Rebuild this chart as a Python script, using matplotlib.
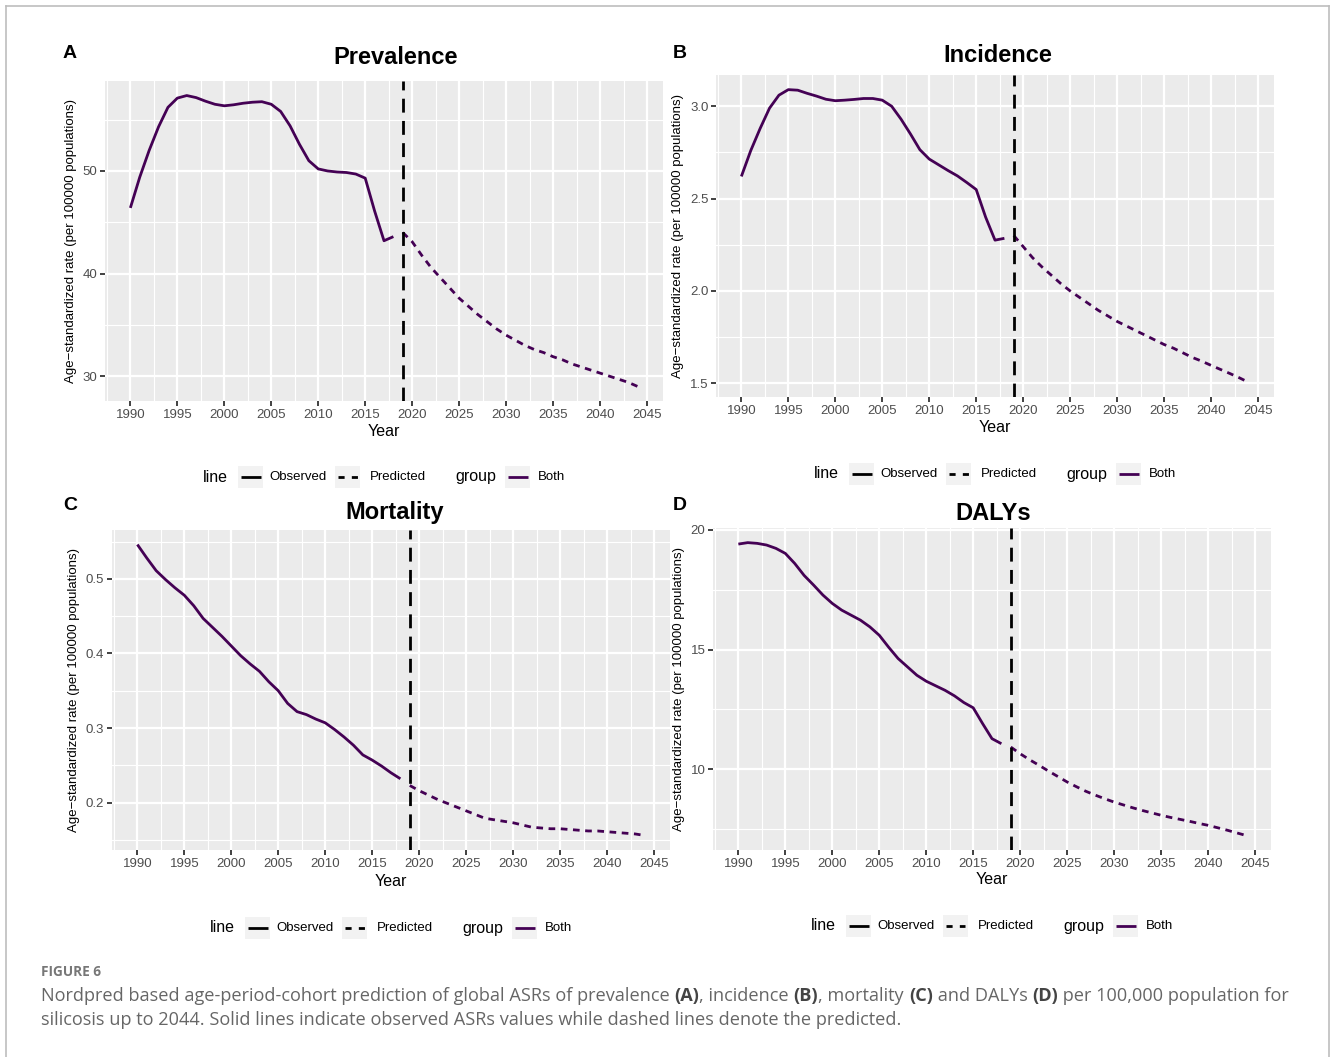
import matplotlib
matplotlib.use("Agg")
import matplotlib.pyplot as plt
from matplotlib.lines import Line2D
from matplotlib.patches import Rectangle

W, H = 1330, 1057

# ---- data ----
obs_years = list(range(1990, 2019))
pred_years = list(range(2019, 2045))

prev_obs = [46.4, 49.4, 52.0, 54.3, 56.2, 57.1, 57.35, 57.15, 56.8, 56.5,
            56.35, 56.45, 56.6, 56.7, 56.75, 56.5, 55.8, 54.4, 52.6, 51.0,
            50.2, 50.0, 49.9, 49.85, 49.7, 49.3, 46.1, 43.2, 43.6]
prev_pred = [44.0, 43.1, 41.8, 40.6, 39.6, 38.6, 37.6, 36.8, 36.0, 35.3,
             34.6, 34.0, 33.5, 33.0, 32.6, 32.3, 31.9, 31.6, 31.2, 30.9,
             30.6, 30.3, 30.0, 29.7, 29.4, 29.0]

inc_obs = [2.62, 2.76, 2.88, 2.99, 3.06, 3.09, 3.087, 3.07, 3.055, 3.038,
           3.03, 3.033, 3.037, 3.042, 3.042, 3.033, 3.0, 2.93, 2.85, 2.765,
           2.714, 2.683, 2.652, 2.623, 2.587, 2.549, 2.40, 2.275, 2.285]
inc_pred = [2.30, 2.24, 2.18, 2.13, 2.085, 2.04, 2.0, 1.965, 1.93, 1.895,
            1.865, 1.835, 1.81, 1.785, 1.76, 1.735, 1.71, 1.69, 1.665, 1.64,
            1.62, 1.597, 1.575, 1.553, 1.53, 1.505]

mort_obs = [0.546, 0.528, 0.511, 0.499, 0.488, 0.478, 0.464, 0.447, 0.435, 0.423,
            0.410, 0.397, 0.386, 0.376, 0.362, 0.350, 0.333, 0.322, 0.318, 0.312,
            0.307, 0.298, 0.288, 0.277, 0.264, 0.257, 0.249, 0.240, 0.232]
mort_pred = [0.223, 0.216, 0.210, 0.204, 0.199, 0.194, 0.189, 0.184, 0.179, 0.177,
             0.175, 0.173, 0.170, 0.167, 0.166, 0.165, 0.165, 0.164, 0.163, 0.162,
             0.162, 0.161, 0.160, 0.159, 0.158, 0.156]

daly_obs = [19.41, 19.47, 19.44, 19.37, 19.23, 19.02, 18.6, 18.1, 17.7, 17.28,
            16.93, 16.65, 16.44, 16.23, 15.95, 15.6, 15.1, 14.63, 14.28, 13.93,
            13.68, 13.49, 13.3, 13.07, 12.79, 12.57, 11.91, 11.28, 11.07]
daly_pred = [10.93, 10.65, 10.4, 10.17, 9.93, 9.7, 9.47, 9.27, 9.08, 8.92,
             8.77, 8.63, 8.51, 8.39, 8.28, 8.18, 8.08, 7.99, 7.91, 7.83,
             7.74, 7.66, 7.56, 7.46, 7.35, 7.24]

x_ticks = list(range(1990, 2050, 5))
x_minor = [1987.5 + 5 * i for i in range(12)]
cut_year = 2019

titles = ["Prevalence", "Incidence", "Mortality", "DALYs"]
letters = ["A", "B", "C", "D"]
y_ticks = [[30, 40, 50], [1.5, 2.0, 2.5, 3.0], [0.2, 0.3, 0.4, 0.5], [10, 15, 20]]
y_ticklabels = [["30", "40", "50"], ["1.5", "2.0", "2.5", "3.0"],
                ["0.2", "0.3", "0.4", "0.5"], ["10", "15", "20"]]
y_minor = [[35, 45, 55], [1.75, 2.25, 2.75], [0.15, 0.25, 0.35, 0.45, 0.55], [7.5, 12.5, 17.5]]
series = [(prev_obs, prev_pred), (inc_obs, inc_pred), (mort_obs, mort_pred), (daly_obs, daly_pred)]

PURPLE = "#440154"
ylab = "Age\u2212standardized rate (per 100000 populations)"

# layout in pixels: panel box (l, t, r, b), title xy, letter xy, ylabel x, xlabel y, legend x/y
panels = [
    dict(box=(105, 81, 663, 401), title=(396, 58), letter=(70, 54), ylx=71, xly=431, leg=(203, 477)),
    dict(box=(716, 75, 1274, 397), title=(998, 56), letter=(680, 54), ylx=678, xly=427, leg=(814, 474)),
    dict(box=(112, 530, 670, 850), title=(395, 512), letter=(70, 505), ylx=74, xly=881, leg=(210, 928)),
    dict(box=(713, 528, 1271, 850), title=(993, 514), letter=(680, 506), ylx=679, xly=880, leg=(811, 926)),
]


def fx(x):
    return x / W


def fy(y):
    return 1 - y / H


plt.rcParams['font.family'] = ['Liberation Sans', 'DejaVu Sans']
fig = plt.figure(figsize=(W / 100, H / 100), dpi=100)
fig.patch.set_facecolor("white")

# thin frame around the figure
for xs, ys in [([6, 6], [6, 1057]), ([1329, 1329], [6, 1057]), ([6, 1329], [6, 6])]:
    fig.lines.append(Line2D([fx(v) for v in xs], [fy(v) for v in ys], transform=fig.transFigure,
                            color="#BDBDBD", lw=1.2))


def draw_legend(x0, yc):
    fig.text(fx(x0), fy(yc), "line", fontsize=11.5, va="center", ha="left")
    fig.text(fx(x0 + 252), fy(yc), "group", fontsize=11.5, va="center", ha="left")
    fig.text(fx(x0 + 66), fy(yc), "Observed", fontsize=9.5, va="center", ha="left")
    fig.text(fx(x0 + 167), fy(yc), "Predicted", fontsize=9.5, va="center", ha="left")
    fig.text(fx(x0 + 335), fy(yc), "Both", fontsize=9.5, va="center", ha="left")
    for kx, dashed, col in [(x0 + 35, False, "black"), (x0 + 132, True, "black"), (x0 + 302, False, PURPLE)]:
        fig.patches.append(Rectangle((fx(kx), fy(yc + 11)), 25 / W, 22 / H, transform=fig.transFigure,
                                     facecolor="#F2F2F2", edgecolor="none"))
        ln = Line2D([fx(kx + 3), fx(kx + 22.5)], [fy(yc), fy(yc)], transform=fig.transFigure,
                    color=col, lw=2.0, solid_capstyle="butt", dash_capstyle="butt")
        if dashed:
            ln.set_dashes((2.2, 2.6))
        fig.lines.append(ln)


for i, p in enumerate(panels):
    l, t, r, b = p["box"]
    ax = fig.add_axes([fx(l), fy(b), (r - l) / W, (b - t) / H])
    ax.set_facecolor("#EBEBEB")
    for s in ax.spines.values():
        s.set_visible(False)

    obs, pred = series[i]
    allv = obs + pred
    lo, hi = min(allv), max(allv)
    pad = (hi - lo) * 0.05
    ax.set_ylim(lo - pad, hi + pad)
    ax.set_xlim(1987.3, 2046.7)

    ax.set_xticks(x_ticks)
    ax.set_xticks(x_minor, minor=True)
    ax.set_yticks(y_ticks[i])
    ax.set_yticklabels(y_ticklabels[i])
    ax.set_yticks(y_minor[i], minor=True)
    ax.grid(which="major", color="white", lw=1.6)
    ax.grid(which="minor", color="white", lw=0.8)
    ax.set_axisbelow(True)
    ax.tick_params(which="major", length=3.5, width=1.3, color="#333333",
                   labelsize=9.5, labelcolor="#4D4D4D", pad=2)
    ax.tick_params(which="minor", length=0)

    ax.plot(obs_years, obs, color=PURPLE, lw=2.0, solid_capstyle="butt")
    ax.plot(pred_years, pred, color=PURPLE, lw=2.0, dashes=(2.4, 2.0), dash_capstyle="butt")
    ax.axvline(cut_year, color="black", lw=2.0, dashes=(5, 3))

    fig.text(fx(p["title"][0]), fy(p["title"][1]), titles[i], fontsize=17, fontweight="bold",
             ha="center", va="center")
    fig.text(fx(p["letter"][0]), fy(p["letter"][1]), letters[i], fontsize=14, fontweight="bold",
             ha="center", va="center")
    fig.text(fx(p["ylx"]), fy((t + b) / 2), ylab, fontsize=9.5, rotation=90, ha="center", va="center")
    fig.text(fx((l + r) / 2), fy(p["xly"]), "Year", fontsize=11.5, ha="center", va="center")
    draw_legend(*p["leg"])

# ---- caption ----
renderer = fig.canvas.get_renderer()
cap_font = ["Open Sans", "DejaVu Sans"]
cap_col = "#666666"
fig.text(fx(41), fy(972), "FIGURE 6", fontsize=9.8, fontweight="bold", color="#777777",
         family=cap_font, va="center")


def rich_line(pieces, x, y):
    for s, bold in pieces:
        txt = fig.text(fx(x), fy(y), s, fontsize=13.1, color="#444444" if bold else cap_col,
                       family=cap_font, fontweight="bold" if bold else "normal", va="center")
        x = txt.get_window_extent(renderer).x1


rich_line([("Nordpred based age-period-cohort prediction of global ASRs of prevalence ", False),
           ("(A)", True), (", incidence ", False), ("(B)", True), (", mortality ", False),
           ("(C)", True), (" and DALYs ", False), ("(D)", True),
           (" per 100,000 population for", False)], 41, 996)
rich_line([("silicosis up to 2044. Solid lines indicate observed ASRs values while dashed lines denote the predicted.",
            False)], 41, 1020)

fig.savefig("out.png", dpi=100)
